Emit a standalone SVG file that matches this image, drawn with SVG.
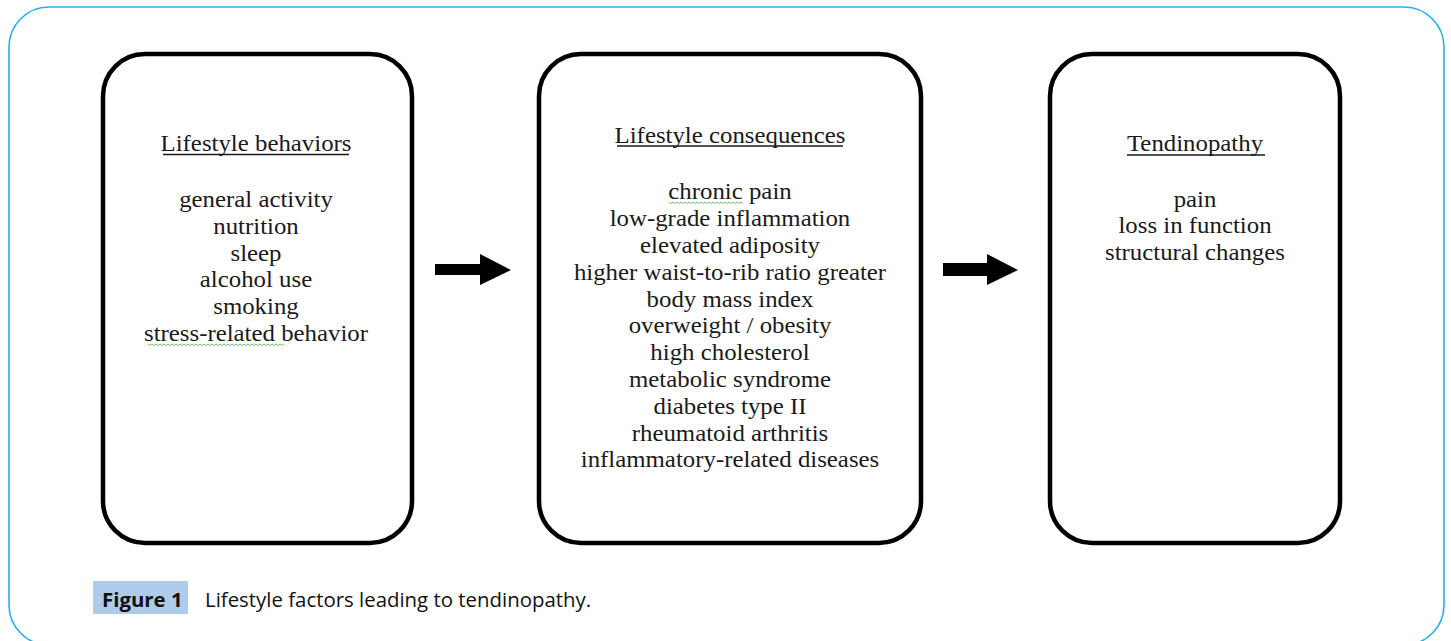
<svg xmlns="http://www.w3.org/2000/svg" width="1451" height="641" viewBox="0 0 1451 641">
<style>
.frame{fill:#fff;stroke:#29b0e6;stroke-width:1.6}
.box{fill:#fff;stroke:#000;stroke-width:4.5}
.t{font-family:"Liberation Serif","Times New Roman",serif;font-size:23px;fill:#1a1a1a;text-anchor:middle}
.ul{stroke:#1a1a1a;stroke-width:1.3}
.sq{fill:none;stroke:#7cc47c;stroke-width:1}
.arrow{fill:#000}
.cap{font-family:"Open Sans","Noto Sans",sans-serif;font-size:20.4px;fill:#111}
</style>
<rect x="0" y="0" width="1451" height="641" fill="#fff"/>
<rect class="frame" x="9" y="7" width="1435" height="638" rx="40" ry="40"/>

<g id="node-behaviors">
<rect class="box" x="103" y="54" width="309" height="489" rx="42" ry="42"/>
<g transform="translate(256 0) scale(1.08 1)">
<text class="t" x="0" y="151">Lifestyle behaviors</text>
<text class="t" x="0" y="207">general activity</text>
<text class="t" x="0" y="233.8">nutrition</text>
<text class="t" x="0" y="260.6">sleep</text>
<text class="t" x="0" y="287.4">alcohol use</text>
<text class="t" x="0" y="314.2">smoking</text>
<text class="t" x="0" y="341">stress-related behavior</text>
</g>
<line class="ul" x1="163" y1="154.5" x2="349" y2="154.5"/>
<path class="sq" d="M148 344 l2 1.5 l2 -1.5 l2 1.5 l2 -1.5 l2 1.5 l2 -1.5 l2 1.5 l2 -1.5 l2 1.5 l2 -1.5 l2 1.5 l2 -1.5 l2 1.5 l2 -1.5 l2 1.5 l2 -1.5 l2 1.5 l2 -1.5 l2 1.5 l2 -1.5 l2 1.5 l2 -1.5 l2 1.5 l2 -1.5 l2 1.5 l2 -1.5 l2 1.5 l2 -1.5 l2 1.5 l2 -1.5 l2 1.5 l2 -1.5 l2 1.5 l2 -1.5 l2 1.5 l2 -1.5 l2 1.5 l2 -1.5 l2 1.5 l2 -1.5 l2 1.5 l2 -1.5 l2 1.5 l2 -1.5 l2 1.5 l2 -1.5 l2 1.5 l2 -1.5 l2 1.5 l2 -1.5 l2 1.5 l2 -1.5 l2 1.5 l2 -1.5 l2 1.5 l2 -1.5 l2 1.5 l2 -1.5 l2 1.5 l2 -1.5 l2 1.5 l2 -1.5 l2 1.5 l2 -1.5 l2 1.5 l2 -1.5 l2 1.5 l2 -1.5"/>
</g>

<g id="node-consequences">
<rect class="box" x="539" y="54" width="382" height="489" rx="42" ry="42"/>
<g transform="translate(730 0) scale(1.08 1)">
<text class="t" x="0" y="143">Lifestyle consequences</text>
<text class="t" x="0" y="199.5">chronic pain</text>
<text class="t" x="0" y="226.3">low-grade inflammation</text>
<text class="t" x="0" y="253.1">elevated adiposity</text>
<text class="t" x="0" y="279.9">higher waist-to-rib ratio greater</text>
<text class="t" x="0" y="306.7">body mass index</text>
<text class="t" x="0" y="333.5">overweight / obesity</text>
<text class="t" x="0" y="360.3">high cholesterol</text>
<text class="t" x="0" y="387.1">metabolic syndrome</text>
<text class="t" x="0" y="413.9">diabetes type II</text>
<text class="t" x="0" y="440.7">rheumatoid arthritis</text>
<text class="t" x="0" y="467.5">inflammatory-related diseases</text>
</g>
<line class="ul" x1="617" y1="146" x2="843" y2="146"/>
<path class="sq" d="M669 202 l2 1.5 l2 -1.5 l2 1.5 l2 -1.5 l2 1.5 l2 -1.5 l2 1.5 l2 -1.5 l2 1.5 l2 -1.5 l2 1.5 l2 -1.5 l2 1.5 l2 -1.5 l2 1.5 l2 -1.5 l2 1.5 l2 -1.5 l2 1.5 l2 -1.5 l2 1.5 l2 -1.5 l2 1.5 l2 -1.5 l2 1.5 l2 -1.5 l2 1.5 l2 -1.5 l2 1.5 l2 -1.5 l2 1.5 l2 -1.5 l2 1.5 l2 -1.5 l2 1.5 l2 -1.5 l2 1.5"/>
</g>

<g id="node-tendinopathy">
<rect class="box" x="1050" y="54" width="290" height="489" rx="42" ry="42"/>
<g transform="translate(1195 0) scale(1.08 1)">
<text class="t" x="0" y="151">Tendinopathy</text>
<text class="t" x="0" y="207">pain</text>
<text class="t" x="0" y="233.5">loss in function</text>
<text class="t" x="0" y="260">structural changes</text>
</g>
<line class="ul" x1="1127" y1="155" x2="1265" y2="155"/>
</g>

<g id="connectors">
<polygon class="arrow" points="435,264 480,264 480,254 511,270 480,285 480,275 435,275"/>
<polygon class="arrow" points="943,263 987,263 987,254 1018,270 987,285 987,276 943,276"/>
</g>

<g id="caption">
<rect x="93" y="581" width="95" height="33" fill="#aecbea"/>
<text class="cap" x="102" y="607" font-weight="bold">Figure 1</text>
<text class="cap" x="205" y="607">Lifestyle factors leading to tendinopathy.</text>
</g>
</svg>
